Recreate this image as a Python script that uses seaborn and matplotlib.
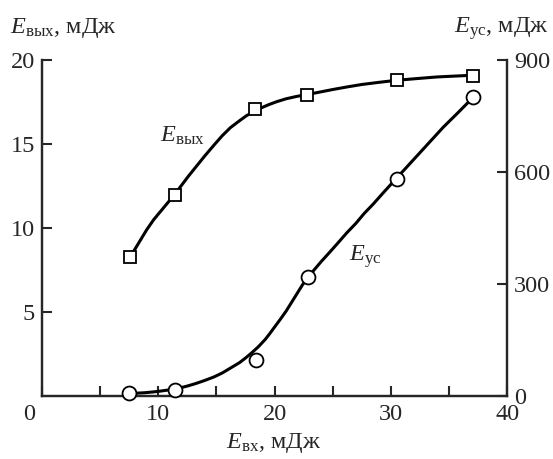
import matplotlib
matplotlib.use("Agg")
import matplotlib.pyplot as plt
import matplotlib.transforms as mtransforms
import seaborn as sns

# measured points
e_in_out = [7.6, 11.4, 18.3, 22.8, 30.5, 37.1]
e_out = [8.3, 12.0, 17.1, 17.9, 18.8, 19.05]
e_in_us = [7.5, 11.4, 18.4, 22.9, 30.5, 37.1]
e_us = [8, 16, 97, 319, 581, 801]

# fitted curves
curve_out_x = [7.6, 8.3, 9.0, 9.6, 10.2, 10.8, 11.4, 12.0, 12.6, 13.3, 14.0, 14.8, 15.5, 16.2, 17.0, 17.6,
               18.3, 18.9, 19.5, 20.2, 21.0, 21.9, 22.8, 23.9, 25.0, 26.2, 27.5, 29.0, 30.5, 32.2, 34.0, 35.5, 37.1]
curve_out_y = [8.3, 9.1, 9.9, 10.5, 11.0, 11.5, 12.0, 12.55, 13.1, 13.7, 14.3, 14.95, 15.5, 15.98, 16.4, 16.7,
               16.95, 17.17, 17.35, 17.53, 17.7, 17.84, 17.95, 18.1, 18.25, 18.4, 18.55, 18.68, 18.8, 18.9, 19.0, 19.05, 19.1]
curve_us_x = [8.2, 8.8, 9.5, 10.2, 11.0, 11.8, 12.5, 13.2, 14.0, 14.8, 15.5, 16.2, 17.0, 17.5, 18.0, 18.6,
              19.2, 19.6, 20.0, 20.5, 21.0, 21.5, 22.0, 22.4, 22.9, 23.4, 24.0, 24.7, 25.5, 26.2, 27.0, 27.7,
              28.5, 29.5, 30.5, 31.5, 32.5, 33.5, 34.5, 35.8, 37.1]
curve_us_y = [8, 9, 11, 13.5, 17, 21.5, 27, 33.5, 42, 51.5, 62, 75, 90, 102, 115, 132,
              152, 168, 185, 206, 228, 253, 278, 298, 319, 338, 360, 384, 412, 437, 463, 489,
              515, 550, 584, 618, 652, 686, 720, 760, 801]

plt.rcParams['mathtext.fontset'] = 'custom'
plt.rcParams['mathtext.rm'] = 'Liberation Serif'
plt.rcParams['mathtext.it'] = 'Liberation Serif:italic'
sns.set_style("ticks")
plt.rcParams['font.family'] = ['Liberation Serif', 'DejaVu Serif']
fs = 17.5
plt.rcParams['font.size'] = fs

fig = plt.figure(figsize=(5.53, 4.59), dpi=100)
ax = fig.add_axes([0.076, 0.137, 0.841, 0.732])
ax2 = ax.twinx()

lw = 2.2
sns.lineplot(x=curve_out_x, y=curve_out_y, ax=ax, color='black', linewidth=lw, sort=False)
sns.lineplot(x=curve_us_x, y=curve_us_y, ax=ax2, color='black', linewidth=lw, sort=False)
ax.plot(e_in_out, e_out, linestyle='none', marker='s', markersize=8.5,
        markerfacecolor='white', markeredgecolor='black', markeredgewidth=1.3, zorder=5, clip_on=False)
ax2.plot(e_in_us, e_us, linestyle='none', marker='o', markersize=10,
         markerfacecolor='white', markeredgecolor='black', markeredgewidth=1.3, zorder=5, clip_on=False)

ax.set_xlim(0, 40)
ax.set_ylim(0, 20)
ax2.set_ylim(0, 900)

ax.set_xticks([0, 10, 20, 30, 40])
ax.set_xticks([5, 15, 25, 35], minor=True)
ax.set_yticks([5, 10, 15, 20])
ax2.set_yticks([0, 300, 600, 900])

for a in (ax, ax2):
    a.tick_params(axis='both', which='both', direction='in', length=7, width=1.5,
                  labelsize=fs, pad=5)
    a.spines['top'].set_visible(False)
    for s in ('left', 'right', 'bottom'):
        a.spines[s].set_linewidth(1.6)
ax.tick_params(axis='x', which='both', pad=6)
ax2.tick_params(axis='y', right=True, left=False)
ax.tick_params(axis='y', right=False)

# shift the corner "0" left like in the original
fig.canvas.draw()
lbl0 = ax.get_xticklabels()[0]
lbl0.set_transform(lbl0.get_transform() + mtransforms.ScaledTranslation(-13 / 100, 0, fig.dpi_scale_trans))

ax.set_xlabel('')
ax.set_ylabel('')
ax2.set_ylabel('')
ax.text(0.497, -0.14, r'$E_{\mathrm{вх}}$, мДж', transform=ax.transAxes,
        ha='center', va='center', fontsize=fs)
ax.text(-0.069, 1.095, r'$E_{\mathrm{вых}}$, мДж', transform=ax.transAxes,
        ha='left', va='center', fontsize=fs)
ax.text(1.09, 1.095, r'$E_{\mathrm{ус}}$, мДж', transform=ax.transAxes,
        ha='right', va='center', fontsize=fs)

ax.text(12.1, 15.5, r'$E_{\mathrm{вых}}$', ha='center', va='center', fontsize=fs)
ax.text(27.8, 8.3, r'$E_{\mathrm{ус}}$', ha='center', va='center', fontsize=fs)

fig.savefig('out.png', dpi=100)
